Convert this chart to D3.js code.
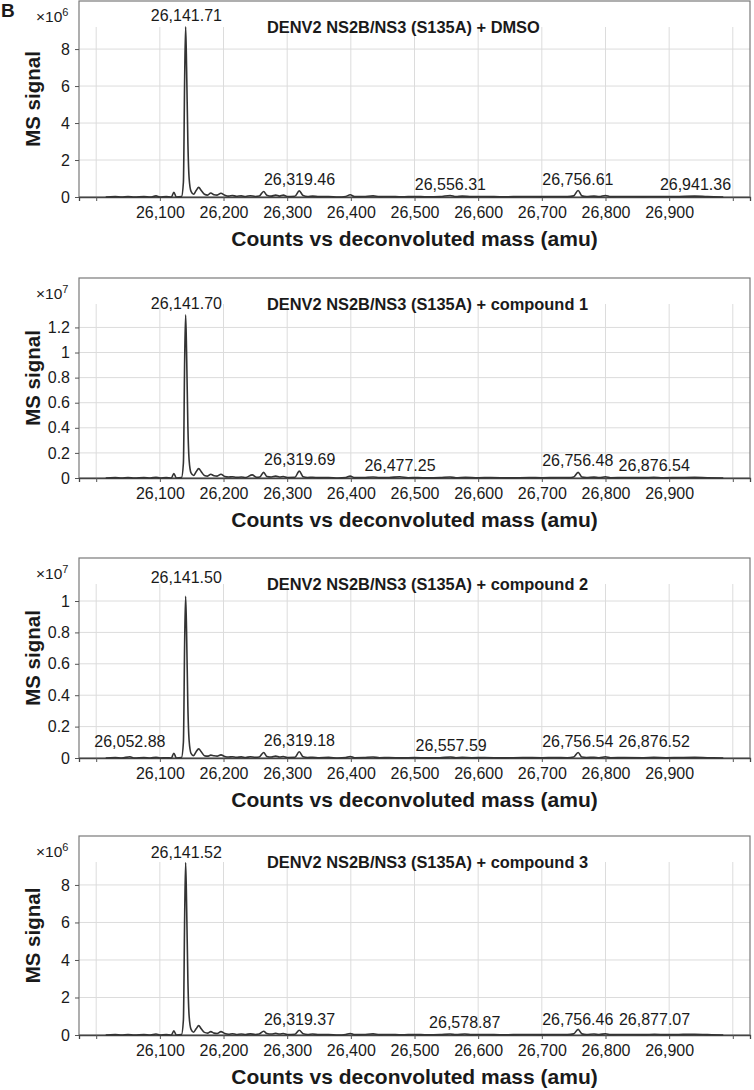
<!DOCTYPE html>
<html>
<head>
<meta charset="utf-8">
<script src="https://cdn.jsdelivr.net/npm/d3@7"></script>
<style>
  body { margin: 0; background: #fff; }
  svg { display: block; font-family: 'Liberation Sans', Arial, sans-serif; }
</style>
</head>
<body>
<svg id="chart" width="754" height="1090"></svg>
<script>
/* Deconvoluted MS spectra of DENV2 NS2B/NS3 (S135A), four treatments */

const titles = [
  'DENV2 NS2B/NS3 (S135A) + DMSO',
  'DENV2 NS2B/NS3 (S135A) + compound 1',
  'DENV2 NS2B/NS3 (S135A) + compound 2',
  'DENV2 NS2B/NS3 (S135A) + compound 3'
]
const exponents = [6, 7, 7, 6]
const yMax = [10.6, 1.594, 1.274, 10.61]
const yTicks = [
  [0, 2, 4, 6, 8],
  [0, 0.2, 0.4, 0.6, 0.8, 1, 1.2],
  [0, 0.2, 0.4, 0.6, 0.8, 1],
  [0, 2, 4, 6, 8]
]
const xTicks = [26000, 26100, 26200, 26300, 26400, 26500, 26600, 26700, 26800, 26900, 27000]
const xTickLabels = ['', '26,100', '26,200', '26,300', '26,400', '26,500', '26,600', '26,700', '26,800', '26,900', '']

// [mass (amu), signal], in units of 10^exponent
const dmsoSpectrum = [
  [26015, 0], [26030, 0.02], [26040, 0], [26050, 0.03], [26060, 0], [26075, 0.02], [26085, 0],
  [26094, 0.06], [26100, 0], [26110, 0.02], [26118, 0], [26122, 0.25], [26126, 0], [26134, 0.02],
  [26137, 0.8], [26139, 6.5], [26140.5, 9.2], [26142, 7.0], [26144, 3.0], [26146, 1.0], [26149, 0.3],
  [26153, 0.15], [26157, 0.35], [26161, 0.52], [26165, 0.35], [26170, 0.15], [26175, 0.1], [26180, 0.22],
  [26185, 0.12], [26190, 0.1], [26196, 0.2], [26202, 0.1], [26208, 0.05], [26214, 0.08], [26220, 0.04],
  [26228, 0.06], [26235, 0.03], [26242, 0.07], [26250, 0.03], [26256, 0.05], [26263, 0.3], [26268, 0.1],
  [26275, 0.05], [26282, 0.1], [26288, 0.05], [26294, 0.1], [26300, 0.03], [26312, 0.04], [26319, 0.33],
  [26325, 0.08], [26332, 0.03], [26340, 0.05], [26350, 0.02], [26365, 0.03], [26380, 0], [26392, 0.03],
  [26399, 0.12], [26406, 0.02], [26420, 0.03], [26435, 0.06], [26445, 0.02], [26460, 0.03], [26480, 0.01],
  [26500, 0.03], [26520, 0.01], [26540, 0.02], [26556, 0.08], [26565, 0.02], [26575, 0.05], [26590, 0.02],
  [26610, 0.03], [26640, 0.01], [26670, 0.03], [26700, 0.02], [26720, 0.03], [26740, 0.02], [26750, 0.06],
  [26757, 0.35], [26763, 0.06], [26770, 0.03], [26782, 0.05], [26790, 0.02], [26800, 0.08], [26808, 0.02],
  [26830, 0.03], [26860, 0.02], [26880, 0.03], [26910, 0.02], [26940, 0.05], [26960, 0.02], [26985, 0]
]
const cpd1Spectrum = [
  [26015, 0], [26030, 0.003], [26040, 0], [26050, 0.004], [26060, 0], [26075, 0.003], [26085, 0],
  [26094, 0.006], [26100, 0], [26110, 0.003], [26118, 0], [26122, 0.035], [26126, 0], [26134, 0.003],
  [26137, 0.12], [26139, 0.95], [26140.5, 1.30], [26142, 1.0], [26144, 0.42], [26146, 0.14], [26149, 0.04],
  [26153, 0.02], [26157, 0.05], [26161, 0.075], [26165, 0.05], [26170, 0.02], [26175, 0.015], [26180, 0.03],
  [26185, 0.018], [26190, 0.015], [26196, 0.03], [26202, 0.012], [26208, 0.008], [26214, 0.01], [26220, 0.005],
  [26228, 0.008], [26235, 0.004], [26245, 0.025], [26252, 0.005], [26257, 0.008], [26263, 0.045], [26268, 0.012],
  [26275, 0.008], [26282, 0.015], [26288, 0.008], [26294, 0.012], [26300, 0.004], [26312, 0.005], [26319, 0.055],
  [26325, 0.01], [26332, 0.004], [26340, 0.006], [26350, 0.003], [26365, 0.004], [26380, 0], [26392, 0.004],
  [26399, 0.015], [26406, 0.003], [26420, 0.004], [26435, 0.008], [26445, 0.003], [26460, 0.004], [26477, 0.01],
  [26490, 0.002], [26505, 0.004], [26520, 0.001], [26540, 0.003], [26556, 0.008], [26565, 0.002], [26580, 0.005],
  [26600, 0.002], [26620, 0.004], [26650, 0.001], [26680, 0.004], [26700, 0.002], [26725, 0.004], [26742, 0.003],
  [26750, 0.008], [26757, 0.045], [26763, 0.008], [26770, 0.004], [26782, 0.007], [26790, 0.003], [26800, 0.01],
  [26808, 0.002], [26830, 0.004], [26860, 0.003], [26876, 0.006], [26890, 0.002], [26915, 0.004], [26940, 0.005],
  [26960, 0.002], [26985, 0]
]
const cpd2Spectrum = [
  [26015, 0], [26030, 0.003], [26040, 0], [26053, 0.008], [26060, 0], [26075, 0.003], [26085, 0],
  [26094, 0.005], [26100, 0], [26110, 0.002], [26118, 0], [26122, 0.03], [26126, 0], [26134, 0.003],
  [26137, 0.1], [26139, 0.75], [26140.5, 1.03], [26142, 0.8], [26144, 0.33], [26146, 0.11], [26149, 0.03],
  [26153, 0.015], [26157, 0.04], [26161, 0.058], [26165, 0.04], [26170, 0.015], [26175, 0.012], [26180, 0.018],
  [26185, 0.014], [26190, 0.012], [26196, 0.02], [26202, 0.01], [26208, 0.006], [26214, 0.008], [26220, 0.004],
  [26228, 0.007], [26235, 0.003], [26242, 0.008], [26250, 0.004], [26256, 0.006], [26263, 0.035], [26268, 0.01],
  [26275, 0.006], [26282, 0.012], [26288, 0.006], [26294, 0.01], [26300, 0.003], [26312, 0.004], [26319, 0.04],
  [26325, 0.008], [26332, 0.003], [26340, 0.005], [26350, 0.002], [26365, 0.004], [26380, 0], [26392, 0.003],
  [26399, 0.01], [26406, 0.002], [26420, 0.003], [26435, 0.006], [26445, 0.002], [26460, 0.003], [26480, 0.001],
  [26500, 0.003], [26520, 0.001], [26540, 0.002], [26557, 0.006], [26565, 0.002], [26575, 0.004], [26590, 0.002],
  [26610, 0.003], [26640, 0.001], [26670, 0.003], [26700, 0.002], [26720, 0.003], [26740, 0.002], [26750, 0.006],
  [26757, 0.035], [26763, 0.006], [26770, 0.003], [26782, 0.005], [26790, 0.002], [26800, 0.008], [26808, 0.002],
  [26830, 0.003], [26860, 0.002], [26876, 0.004], [26895, 0.002], [26915, 0.003], [26940, 0.004], [26960, 0.002],
  [26985, 0]
]
const cpd3Spectrum = [
  [26015, 0], [26030, 0.02], [26040, 0], [26050, 0.03], [26060, 0], [26075, 0.02], [26085, 0],
  [26094, 0.05], [26100, 0], [26110, 0.02], [26118, 0], [26122, 0.22], [26126, 0], [26134, 0.02],
  [26137, 0.8], [26139, 6.4], [26140.5, 9.2], [26142, 7.0], [26144, 3.0], [26146, 1.0], [26149, 0.3],
  [26153, 0.15], [26157, 0.33], [26161, 0.5], [26165, 0.33], [26170, 0.14], [26175, 0.1], [26180, 0.18],
  [26185, 0.1], [26190, 0.08], [26196, 0.18], [26202, 0.08], [26208, 0.04], [26214, 0.07], [26220, 0.03],
  [26228, 0.05], [26235, 0.03], [26242, 0.06], [26250, 0.03], [26256, 0.05], [26263, 0.2], [26268, 0.08],
  [26275, 0.05], [26282, 0.09], [26288, 0.05], [26294, 0.08], [26300, 0.03], [26312, 0.04], [26319, 0.25],
  [26325, 0.07], [26332, 0.03], [26340, 0.05], [26350, 0.02], [26365, 0.03], [26380, 0], [26392, 0.03],
  [26399, 0.08], [26406, 0.02], [26420, 0.03], [26435, 0.06], [26445, 0.02], [26460, 0.03], [26480, 0.01],
  [26500, 0.03], [26520, 0.01], [26540, 0.02], [26556, 0.05], [26565, 0.02], [26579, 0.05], [26590, 0.02],
  [26610, 0.03], [26640, 0.01], [26670, 0.03], [26700, 0.02], [26720, 0.03], [26740, 0.02], [26750, 0.06],
  [26757, 0.3], [26763, 0.06], [26770, 0.03], [26782, 0.05], [26790, 0.02], [26800, 0.07], [26808, 0.02],
  [26830, 0.03], [26860, 0.02], [26877, 0.04], [26895, 0.02], [26915, 0.03], [26940, 0.04], [26960, 0.02],
  [26985, 0]
]
const spectra = [dmsoSpectrum, cpd1Spectrum, cpd2Spectrum, cpd3Spectrum]

// labelled peaks: [label mass, height the label sits on]
const dmsoPeaks = [[26141.71, 9.2], [26319.46, 0.33], [26556.31, 0.08], [26756.61, 0.35], [26941.36, 0.06]]
const cpd1Peaks = [[26141.70, 1.30], [26319.69, 0.055], [26477.25, 0.01], [26756.48, 0.045], [26876.54, 0.006]]
const cpd2Peaks = [[26141.50, 1.075], [26052.88, 0.03], [26319.18, 0.04], [26557.59, 0.006], [26756.54, 0.032], [26876.52, 0.032]]
const cpd3Peaks = [[26141.52, 9.1], [26319.37, 0.21], [26578.87, 0.05], [26756.46, 0.21], [26877.07, 0.21]]
const peakLabels = [dmsoPeaks, cpd1Peaks, cpd2Peaks, cpd3Peaks]

const frames = [[1, 197], [278, 478], [558, 758], [836, 1035]]
const plotLeft = 79
const plotRight = 750
const ink = '#1a1a1a'

const svg = d3.select('#chart')
const x = d3.scaleLinear().domain([25973, 27027]).range([plotLeft, plotRight])
const labelFmt = d3.format(',.2f')

svg.append('text')
  .attr('x', 1).attr('y', 17)
  .attr('font-size', 19).attr('font-weight', 'bold').attr('fill', ink)
  .text('B')

/** Draw one spectrum panel
  * @param {Number} i panel index
  */
function drawPanel (i) {
  const [top, bottom] = frames[i]
  const y = d3.scaleLinear().domain([0, yMax[i]]).range([bottom, top])
  const g = svg.append('g')

  // gridlines
  g.selectAll('line.vgrid').data(xTicks).enter().append('line')
    .attr('x1', d => x(d)).attr('x2', d => x(d))
    .attr('y1', top + 26).attr('y2', bottom)
    .attr('stroke', '#dcdcdc').attr('stroke-width', 1)
  g.selectAll('line.hgrid').data(yTicks[i].slice(1)).enter().append('line')
    .attr('x1', plotLeft).attr('x2', plotRight)
    .attr('y1', d => y(d)).attr('y2', d => y(d))
    .attr('stroke', '#dcdcdc').attr('stroke-width', 1)

  // frame
  g.append('rect')
    .attr('x', plotLeft).attr('y', top)
    .attr('width', plotRight - plotLeft).attr('height', bottom - top)
    .attr('fill', 'none').attr('stroke', '#7a7a7a').attr('stroke-width', 1.2)

  // axes
  const xAxis = g.append('g')
    .attr('transform', `translate(0,${bottom})`)
    .call(d3.axisBottom(x).tickValues(xTicks).tickSize(4).tickPadding(6)
      .tickFormat((d, j) => xTickLabels[j]))
  const yAxis = g.append('g')
    .attr('transform', `translate(${plotLeft},0)`)
    .call(d3.axisLeft(y).tickValues(yTicks[i]).tickSize(4).tickPadding(5)
      .tickFormat(d => d))
  for (const ax of [xAxis, yAxis]) {
    ax.attr('font-family', null).attr('font-size', 16)
    ax.select('.domain').attr('stroke', '#444').attr('stroke-width', 1.3)
    ax.selectAll('.tick line').attr('stroke', '#555')
    ax.selectAll('.tick text').attr('fill', ink)
  }
  yAxis.select('.domain').remove()

  // spectrum trace
  g.append('path')
    .datum(spectra[i])
    .attr('fill', 'none')
    .attr('stroke', '#333').attr('stroke-width', 1.6)
    .attr('stroke-linejoin', 'round')
    .attr('d', d3.line().x(d => x(d[0])).y(d => y(d[1])).curve(d3.curveMonotoneX))

  // peak labels
  g.selectAll('text.peak').data(peakLabels[i]).enter().append('text')
    .attr('x', d => x(d[0])).attr('y', d => y(d[1]) - 6)
    .attr('text-anchor', 'middle').attr('font-size', 16).attr('fill', ink)
    .text(d => labelFmt(d[0]))

  // title
  g.append('text')
    .attr('x', 267).attr('y', top + 32)
    .attr('font-size', 16.4).attr('font-weight', 'bold').attr('fill', ink)
    .text(titles[i])

  // scale exponent
  const ex = g.append('text')
    .attr('x', 36).attr('y', top + 21)
    .attr('font-size', 15.5).attr('fill', ink)
  ex.append('tspan').text('\u00d710')
  ex.append('tspan').attr('dy', -6).attr('font-size', 11).text(exponents[i])

  // axis titles
  g.append('text')
    .attr('x', (plotLeft + plotRight) / 2).attr('y', bottom + 49)
    .attr('text-anchor', 'middle')
    .attr('font-size', 21).attr('font-weight', 'bold').attr('fill', ink)
    .text('Counts vs deconvoluted mass (amu)')
  g.append('text')
    .attr('transform', `translate(39.5,${(top + bottom) / 2}) rotate(-90)`)
    .attr('text-anchor', 'middle')
    .attr('font-size', 20.5).attr('font-weight', 'bold').attr('fill', ink)
    .text('MS signal')
}

for (let i = 0; i < titles.length; i++) drawPanel(i)
</script>
</body>
</html>
